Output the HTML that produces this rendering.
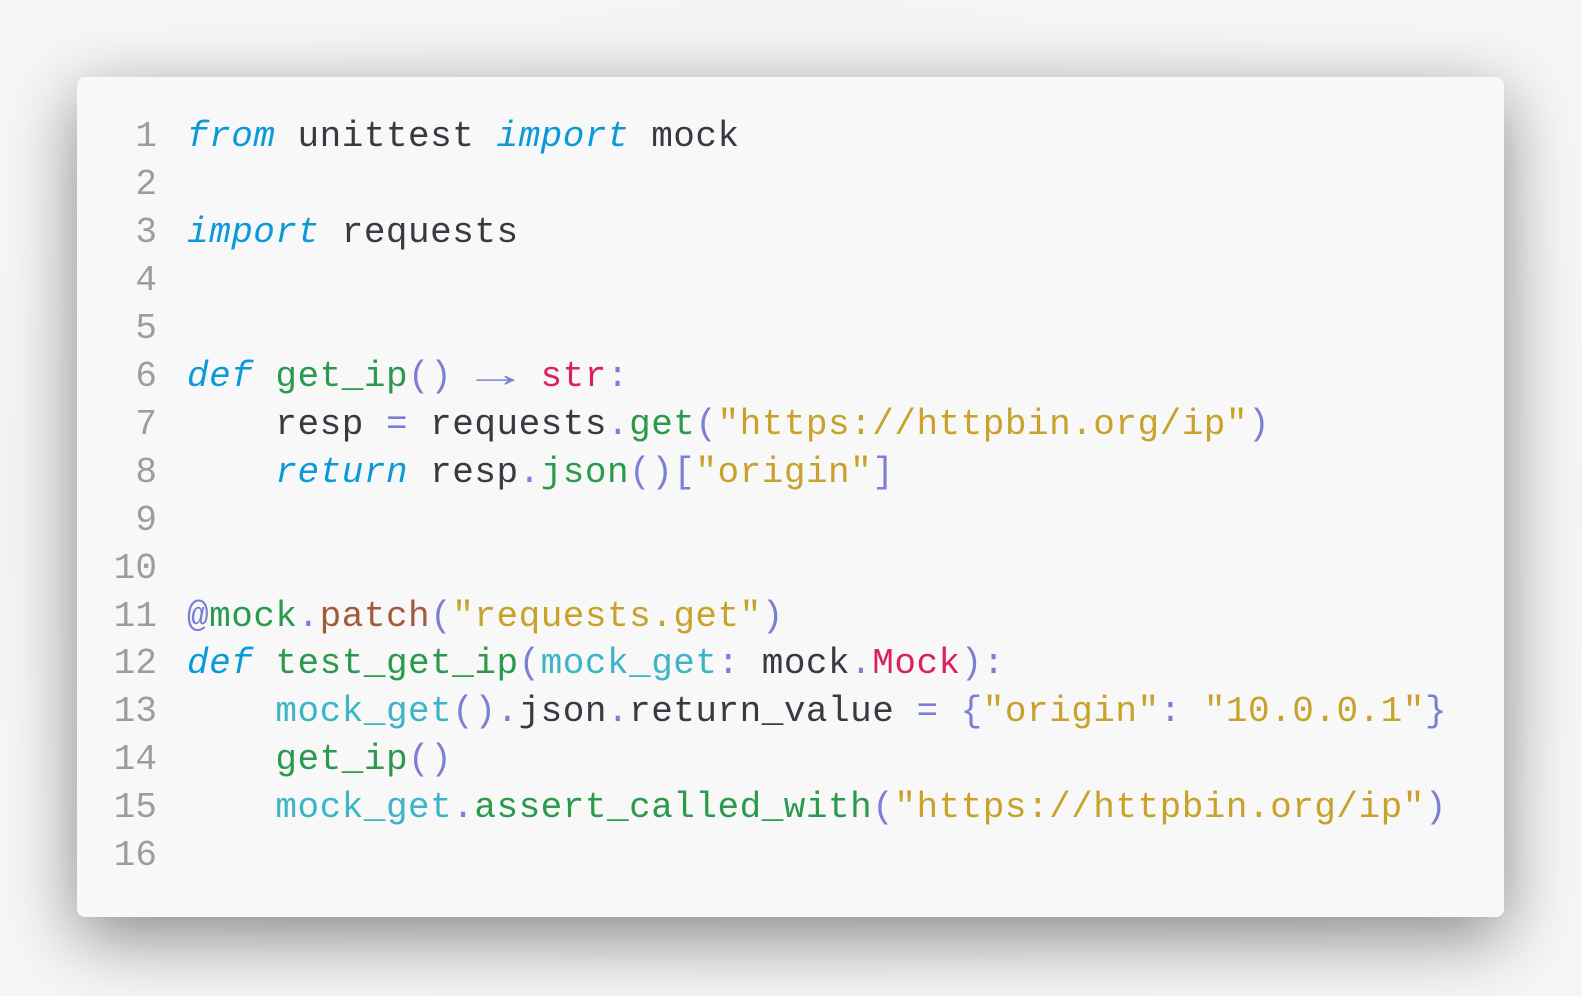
<!DOCTYPE html>
<html><head><meta charset="utf-8"><style>
html,body{margin:0;padding:0;width:1582px;height:996px;background:#f2f2f2;overflow:hidden}
body{background:radial-gradient(ellipse at center,#e9e9e9 0%,#f6f6f6 80%)}
.card{position:absolute;left:77px;top:77px;width:1427px;height:840px;background:#f8f8f8;border-radius:8px;box-shadow:0 20px 70px rgba(0,0,0,0.45)}
pre{position:absolute;left:0;top:113px;margin:0;font-family:"Liberation Mono","DejaVu Sans Mono",monospace;font-size:36px;letter-spacing:0.5px;line-height:47.95px;color:#383a42;white-space:pre}
.ln{display:inline-block;width:157px;text-align:right;color:#9d9d9f;padding-right:30px;letter-spacing:0}
.k{color:#0b9ad8;font-style:italic}
.f{color:#2a9a4c}
.s{color:#c8a22a}
.p{color:#7c7fd6}
.r{color:#d8245a}
.b{color:#a35a3c}
.t{color:#3cb6c6}
.ar{display:inline-block;width:44px;text-align:center;transform:scaleX(1.8);transform-origin:center}
</style></head><body>
<div class="card"></div>
<pre><span class="ln">1</span><span class="k">from</span> unittest <span class="k">import</span> mock
<span class="ln">2</span>
<span class="ln">3</span><span class="k">import</span> requests
<span class="ln">4</span>
<span class="ln">5</span>
<span class="ln">6</span><span class="k">def</span> <span class="f">get_ip</span><span class="p">()</span> <span class="p ar">→</span> <span class="r">str</span><span class="p">:</span>
<span class="ln">7</span>    resp <span class="p">=</span> requests<span class="p">.</span><span class="f">get</span><span class="p">(</span><span class="s">"https://httpbin.org/ip"</span><span class="p">)</span>
<span class="ln">8</span>    <span class="k">return</span> resp<span class="p">.</span><span class="f">json</span><span class="p">()[</span><span class="s">"origin"</span><span class="p">]</span>
<span class="ln">9</span>
<span class="ln">10</span>
<span class="ln">11</span><span class="p">@</span><span class="f">mock</span><span class="p">.</span><span class="b">patch</span><span class="p">(</span><span class="s">"requests.get"</span><span class="p">)</span>
<span class="ln">12</span><span class="k">def</span> <span class="f">test_get_ip</span><span class="p">(</span><span class="t">mock_get</span><span class="p">:</span> mock<span class="p">.</span><span class="r">Mock</span><span class="p">):</span>
<span class="ln">13</span>    <span class="t">mock_get</span><span class="p">().</span>json<span class="p">.</span>return_value <span class="p">=</span> <span class="p">{</span><span class="s">"origin"</span><span class="p">:</span> <span class="s">"10.0.0.1"</span><span class="p">}</span>
<span class="ln">14</span>    <span class="f">get_ip</span><span class="p">()</span>
<span class="ln">15</span>    <span class="t">mock_get</span><span class="p">.</span><span class="f">assert_called_with</span><span class="p">(</span><span class="s">"https://httpbin.org/ip"</span><span class="p">)</span>
<span class="ln">16</span>
</pre>
</body></html>
